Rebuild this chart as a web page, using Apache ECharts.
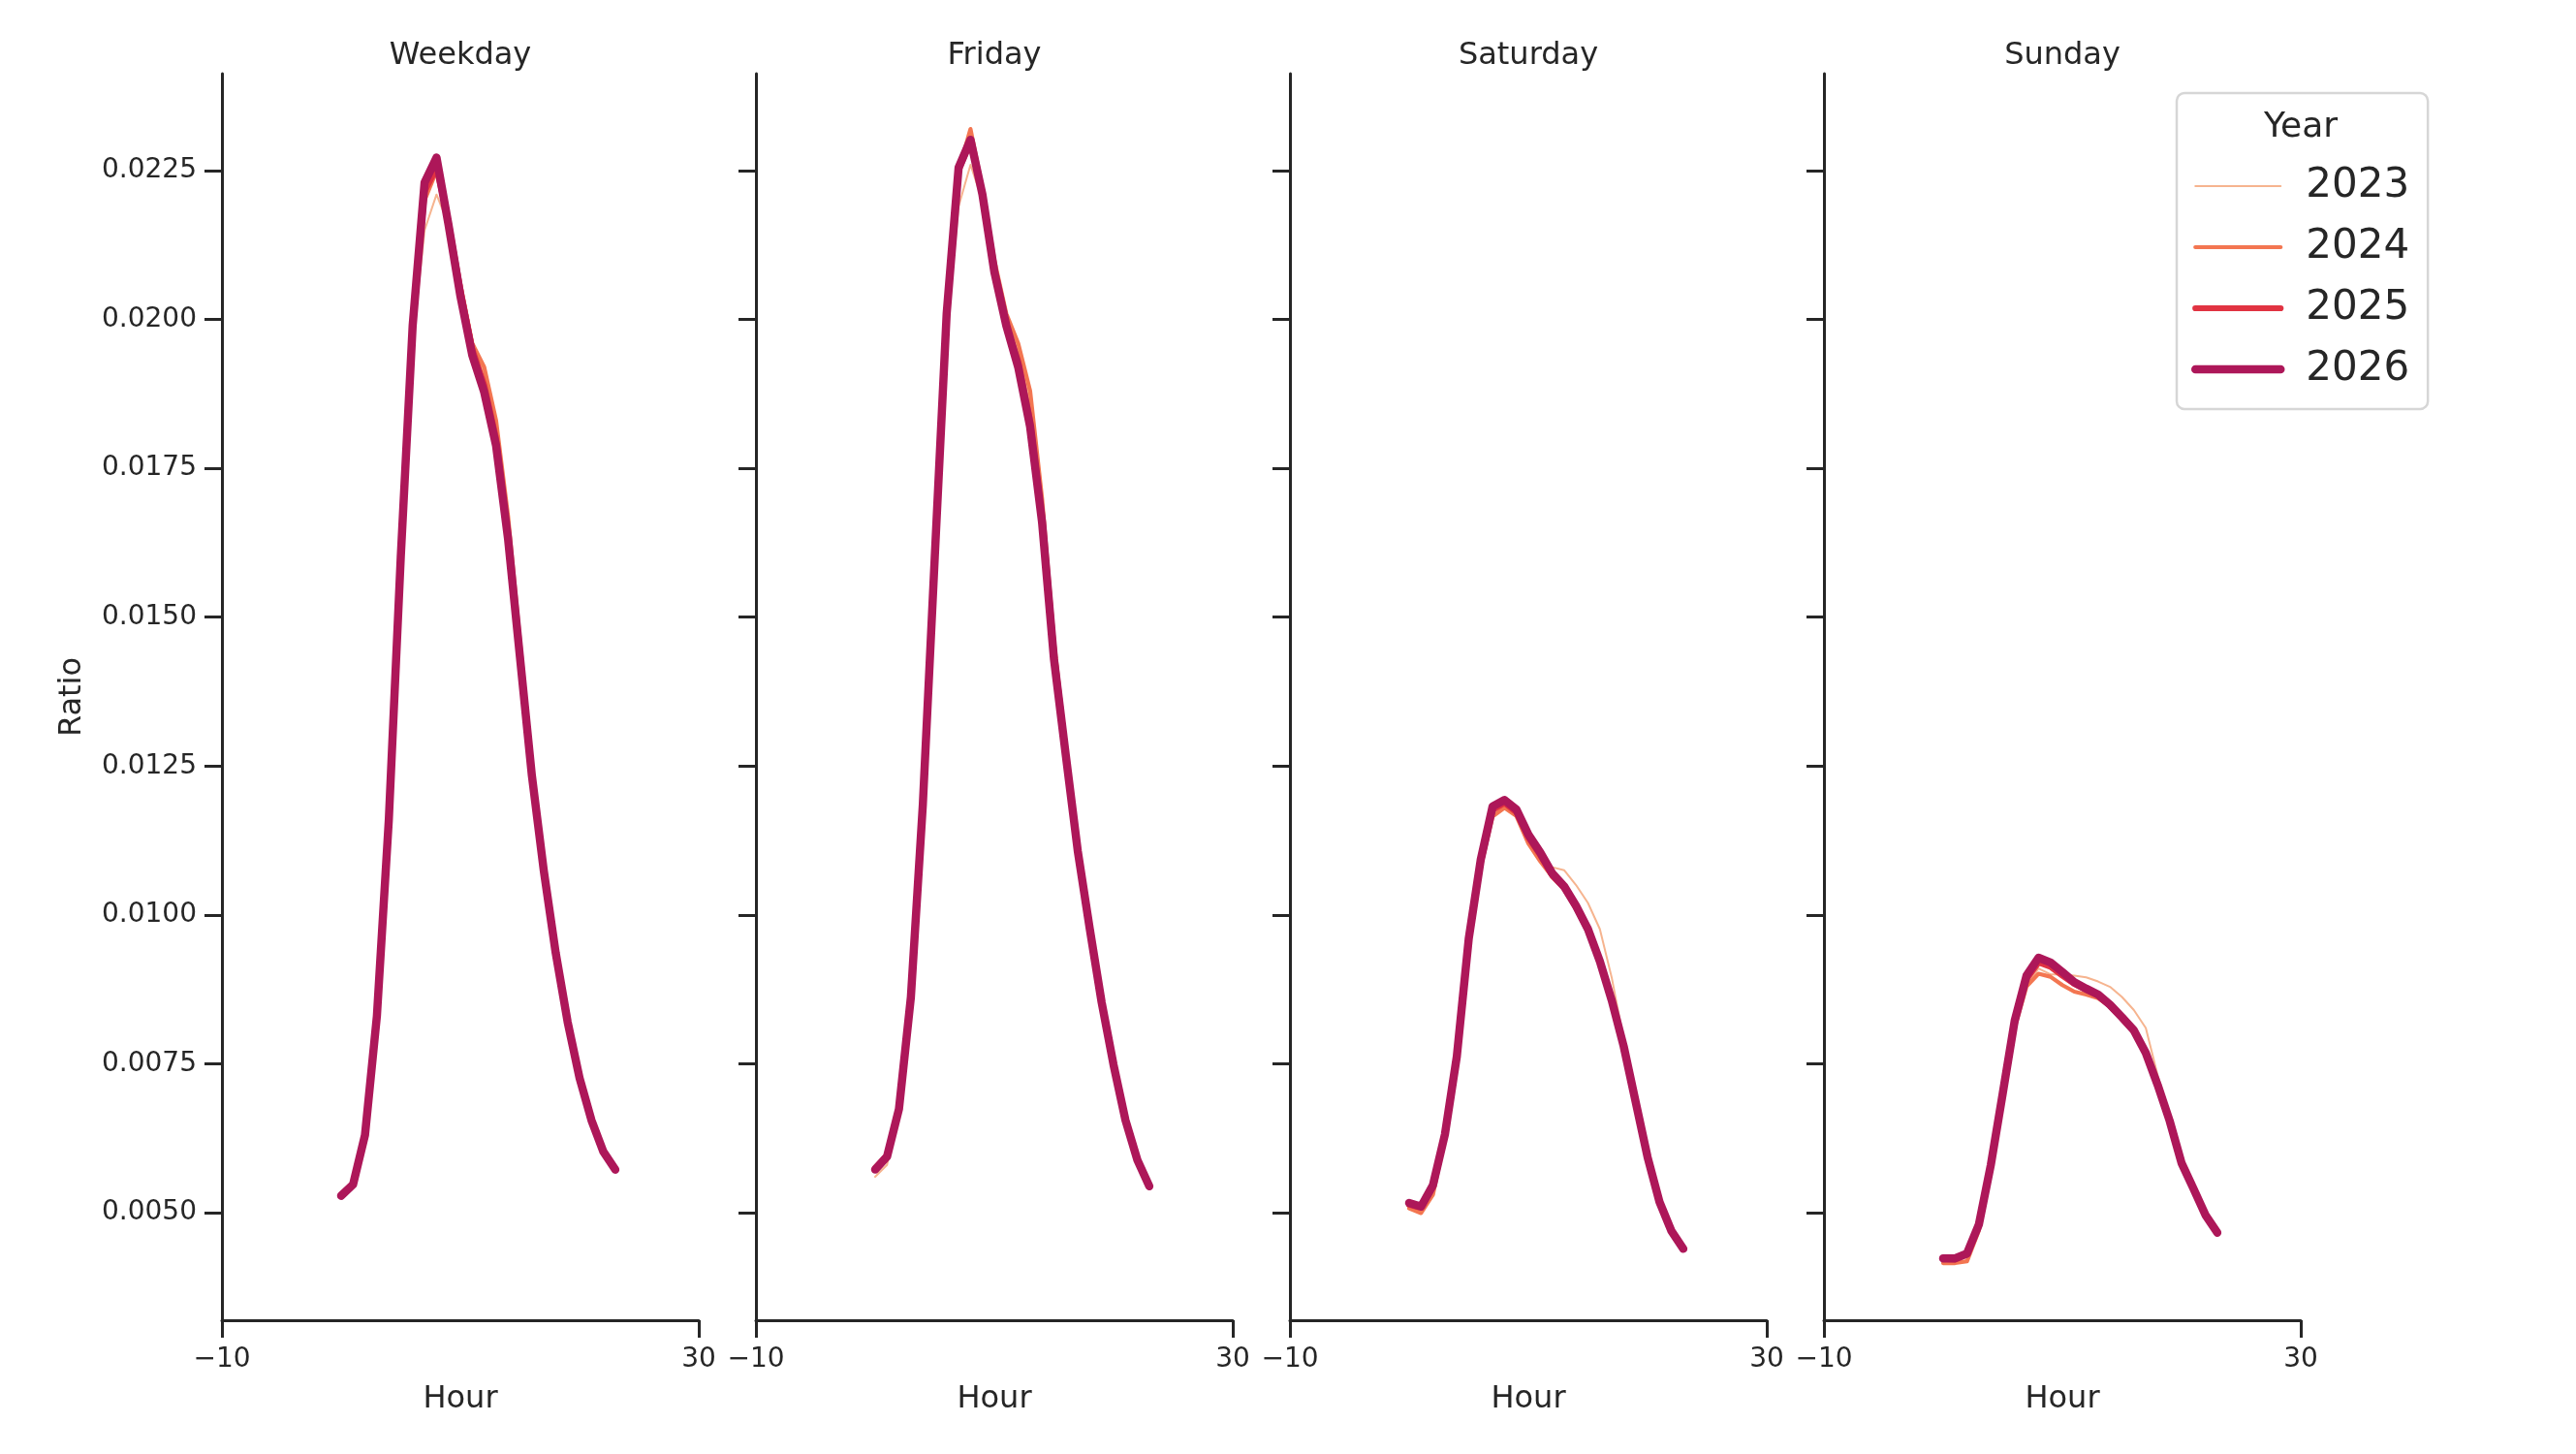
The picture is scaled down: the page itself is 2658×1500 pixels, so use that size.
<!DOCTYPE html>
<html>
<head>
<meta charset="utf-8">
<script src="https://cdn.jsdelivr.net/npm/echarts@6/dist/echarts.min.js"></script>
<style>
  html, body { margin: 0; background: #fff; }
  #chart { width: 2658px; height: 1500px; }
</style>
</head>
<body>
<div id="chart"></div>
<script>
const hours = [0, 1, 2, 3, 4, 5, 6, 7, 8, 9, 10, 11, 12, 13, 14, 15, 16, 17, 18, 19, 20, 21, 22, 23];
const years = ['2023', '2024', '2025', '2026'];
const panels = ['Weekday', 'Friday', 'Saturday', 'Sunday'];
const yTicks = [0.005, 0.0075, 0.01, 0.0125, 0.015, 0.0175, 0.02, 0.0225];
const xTicks = [-10, 30];

const weekday2023 = [0.00525, 0.0055, 0.0064, 0.0084, 0.0116, 0.0159, 0.0196, 0.0215, 0.0221, 0.0216, 0.0206, 0.0196, 0.0191, 0.0182, 0.0166, 0.0145, 0.0124, 0.0108, 0.0094, 0.0082, 0.00727, 0.00656, 0.00602, 0.00572];
const weekday2024 = [0.00527, 0.0055, 0.00635, 0.0083, 0.01155, 0.0159, 0.0198, 0.022, 0.0225, 0.0217, 0.0206, 0.0196, 0.0192, 0.0183, 0.0167, 0.0146, 0.0125, 0.0108, 0.0094, 0.00823, 0.00728, 0.00657, 0.00603, 0.00574];
const weekday2025 = [0.0053, 0.00549, 0.00632, 0.00828, 0.01158, 0.01598, 0.01985, 0.02215, 0.02255, 0.02165, 0.0205, 0.0195, 0.0189, 0.018, 0.0164, 0.01438, 0.01236, 0.01076, 0.00937, 0.00822, 0.00727, 0.00656, 0.00603, 0.00573];
const weekday2026 = [0.00528, 0.00547, 0.0063, 0.0083, 0.0116, 0.016, 0.0199, 0.0223, 0.02272, 0.0216, 0.0204, 0.0194, 0.01878, 0.01788, 0.01632, 0.01433, 0.01234, 0.01074, 0.00936, 0.0082, 0.00726, 0.00655, 0.00602, 0.00572];

const friday2023 = [0.0056, 0.0058, 0.0068, 0.0087, 0.0119, 0.0159, 0.0198, 0.0219, 0.0226, 0.022, 0.0209, 0.02, 0.0195, 0.0186, 0.0168, 0.0145, 0.0127, 0.0111, 0.0098, 0.00853, 0.0075, 0.00656, 0.00589, 0.00544];
const friday2024 = [0.0057, 0.0059, 0.0067, 0.0086, 0.0118, 0.0159, 0.02, 0.0225, 0.0232, 0.0222, 0.021, 0.0201, 0.0196, 0.0188, 0.017, 0.0146, 0.0128, 0.0112, 0.0098, 0.00855, 0.0075, 0.00657, 0.0059, 0.00545];
const friday2025 = [0.00575, 0.00596, 0.00676, 0.00865, 0.0119, 0.01605, 0.0201, 0.0225, 0.023, 0.0221, 0.0208, 0.0199, 0.0193, 0.0183, 0.0167, 0.0144, 0.0127, 0.0111, 0.0098, 0.00855, 0.0075, 0.00656, 0.00589, 0.00545];
const friday2026 = [0.00572, 0.00594, 0.00674, 0.00862, 0.01185, 0.016, 0.0201, 0.02255, 0.02302, 0.0221, 0.0208, 0.0199, 0.0192, 0.0182, 0.0166, 0.0143, 0.01267, 0.01107, 0.00977, 0.00853, 0.00748, 0.00655, 0.00588, 0.00544];

const saturday2023 = [0.0051, 0.00505, 0.0054, 0.0063, 0.0076, 0.0095, 0.0108, 0.0117, 0.0119, 0.0117, 0.0113, 0.011, 0.0108, 0.01075, 0.0105, 0.0102, 0.00976, 0.00894, 0.0079, 0.00692, 0.00596, 0.0052, 0.0047, 0.0044];
const saturday2024 = [0.00507, 0.00499, 0.0053, 0.00625, 0.00755, 0.0095, 0.0108, 0.01165, 0.0118, 0.01166, 0.0112, 0.0109, 0.01064, 0.01045, 0.01015, 0.0098, 0.00925, 0.0086, 0.0078, 0.00688, 0.00594, 0.0052, 0.0047, 0.0044];
const saturday2025 = [0.00513, 0.00508, 0.00545, 0.0063, 0.0076, 0.00955, 0.01088, 0.01176, 0.01188, 0.01172, 0.0113, 0.011, 0.01066, 0.01045, 0.01012, 0.00974, 0.0092, 0.00855, 0.00778, 0.00686, 0.00593, 0.00518, 0.00469, 0.00439];
const saturday2026 = [0.00516, 0.0051, 0.00546, 0.00631, 0.00762, 0.0096, 0.01092, 0.01182, 0.01193, 0.01177, 0.01135, 0.01105, 0.0107, 0.01048, 0.01015, 0.00976, 0.00922, 0.00856, 0.00779, 0.00686, 0.00593, 0.00518, 0.00469, 0.00439];

const sunday2023 = [0.0042, 0.0042, 0.0043, 0.0048, 0.0058, 0.007, 0.0081, 0.0088, 0.0091, 0.009, 0.009, 0.00898, 0.00895, 0.00888, 0.00879, 0.00862, 0.0084, 0.0081, 0.0073, 0.0066, 0.00588, 0.0054, 0.00495, 0.00465];
const sunday2024 = [0.00415, 0.00415, 0.00418, 0.0047, 0.0057, 0.0069, 0.0081, 0.0088, 0.00901, 0.00896, 0.00882, 0.00871, 0.00866, 0.0086, 0.00846, 0.00826, 0.00805, 0.00768, 0.00714, 0.00654, 0.00584, 0.0054, 0.00494, 0.00463];
const sunday2025 = [0.00422, 0.00421, 0.0043, 0.00478, 0.00578, 0.00698, 0.0082, 0.00892, 0.0092, 0.00913, 0.00898, 0.00884, 0.00874, 0.00864, 0.00847, 0.00826, 0.00804, 0.00767, 0.00713, 0.00653, 0.00583, 0.0054, 0.00496, 0.00466];
const sunday2026 = [0.00423, 0.00423, 0.00431, 0.0048, 0.0058, 0.007, 0.00822, 0.00898, 0.00928, 0.0092, 0.00904, 0.00887, 0.00876, 0.00866, 0.00849, 0.00828, 0.00806, 0.00768, 0.00714, 0.00654, 0.00583, 0.0054, 0.00496, 0.00466];

const panelSeries = [
  [weekday2023, weekday2024, weekday2025, weekday2026],
  [friday2023, friday2024, friday2025, friday2026],
  [saturday2023, saturday2024, saturday2025, saturday2026],
  [sunday2023, sunday2024, sunday2025, sunday2026]
];

const colors = ['#f6b48f', '#f37651', '#e13342', '#ad1759'];
const widths = [2, 4.2, 6.2, 8.5];
const ink = '#262626';
const font = 'DejaVu Sans';

const gridLeft = 229, gridStep = 551, gridW = 492, gridTop = 76, gridH = 1286;

const chart = echarts.init(document.getElementById('chart'), null, { renderer: 'canvas' });

const grids = [], xAxes = [], yAxes = [], series = [], graphics = [];

panels.forEach((name, p) => {
  const left = gridLeft + gridStep * p;
  grids.push({ left: left, top: gridTop, width: gridW, height: gridH });

  xAxes.push({
    gridIndex: p, type: 'value', min: -10, max: 30,
    name: 'Hour', nameLocation: 'middle', nameGap: 66,
    nameTextStyle: { fontFamily: font, fontSize: 32, color: ink },
    axisLine: { onZero: false, lineStyle: { color: ink, width: 3 } },
    axisTick: { customValues: xTicks, length: 18, lineStyle: { color: ink, width: 3 } },
    axisLabel: {
      customValues: xTicks, margin: 27, fontFamily: font, fontSize: 28, color: ink,
      formatter: v => String(v).replace('-', '\u2212')
    },
    splitLine: { show: false }
  });

  yAxes.push({
    gridIndex: p, type: 'value', min: 0.00319, max: 0.02413,
    name: p === 0 ? 'Ratio' : '', nameLocation: 'middle', nameGap: 138, nameRotate: 90,
    nameTextStyle: { fontFamily: font, fontSize: 32, color: ink },
    axisLine: { show: true, onZero: false, lineStyle: { color: ink, width: 3 } },
    axisTick: { show: true, customValues: yTicks, length: 18, lineStyle: { color: ink, width: 3 } },
    axisLabel: {
      show: p === 0, customValues: yTicks, margin: 26,
      fontFamily: font, fontSize: 28, color: ink,
      formatter: v => v.toFixed(4)
    },
    splitLine: { show: false }
  });

  graphics.push({
    type: 'text', x: left + gridW / 2, y: 58,
    style: { text: name, fontFamily: font, fontSize: 32, fill: ink, textAlign: 'center', textVerticalAlign: 'middle' }
  });

  years.forEach((yr, i) => {
    series.push({
      name: yr, type: 'line', xAxisIndex: p, yAxisIndex: p,
      symbol: 'none', silent: true, z: 2 + i,
      lineStyle: { color: colors[i], width: widths[i], cap: 'round', join: 'round' },
      itemStyle: { color: colors[i] },
      data: hours.map((h, k) => [h, panelSeries[p][i][k]])
    });
  });
});

// legend title sits inside the legend box
graphics.push({
  type: 'text', x: 2374, y: 132, z: 100,
  style: { text: 'Year', fontFamily: font, fontSize: 36, fill: ink, textAlign: 'center', textVerticalAlign: 'middle' }
});

chart.setOption({
  animation: false,
  backgroundColor: '#fff',
  grid: grids,
  xAxis: xAxes,
  yAxis: yAxes,
  series: series,
  legend: {
    data: years.map((y, i) => ({
      name: y,
      lineStyle: { color: colors[i], width: widths[i], cap: 'round' },
      itemStyle: { opacity: 0 }
    })),
    orient: 'vertical', left: 2246, top: 96,
    padding: [75, 19, 20, 15], itemWidth: 88, itemHeight: 44, itemGap: 21,
    selectedMode: false,
    backgroundColor: '#fff', borderColor: '#d6d6d6', borderWidth: 2.5, borderRadius: 8,
    textStyle: { fontFamily: font, fontSize: 42, color: ink, padding: [0, 0, 0, 21] }
  },
  graphic: graphics
});
</script>
</body>
</html>
